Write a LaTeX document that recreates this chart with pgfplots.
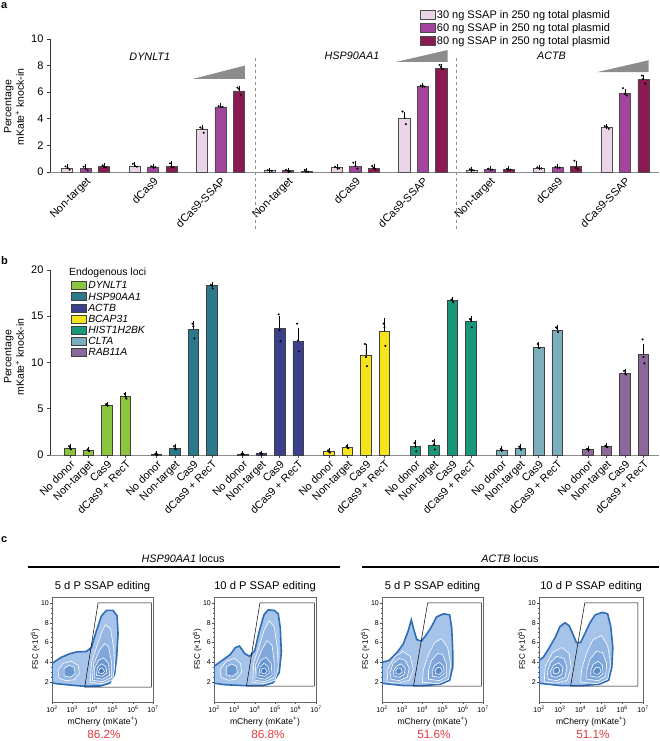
\documentclass[border=0pt]{standalone}
\usepackage{fontspec}
\setmainfont{Liberation Sans}
\usepackage{pgfplots}
\pgfplotsset{compat=1.18}
\newcommand{\fs}[1]{\fontsize{#1}{#1}\selectfont}
\definecolor{sA}{HTML}{EAD4E7}
\definecolor{sB}{HTML}{A3459F}
\definecolor{sC}{HTML}{8C1A52}
\definecolor{gDY}{HTML}{8BC540}
\definecolor{gHS}{HTML}{2B7A8B}
\definecolor{gAC}{HTML}{3A408B}
\definecolor{gBC}{HTML}{F5E41B}
\definecolor{gHI}{HTML}{18977B}
\definecolor{gCL}{HTML}{7BAFBD}
\definecolor{gRA}{HTML}{8C689B}
\definecolor{pctred}{HTML}{E23B3F}
\definecolor{fenv}{HTML}{A6C3E9}
\definecolor{fline}{HTML}{2F6DB8}
\definecolor{cA}{HTML}{94B6E3}
\definecolor{cB}{HTML}{80A7DB}
\definecolor{cC}{HTML}{6B98D3}
\definecolor{cD}{HTML}{5789CB}
\definecolor{cE}{HTML}{437AC3}
\pgfplotsset{
  barlegendA/.style={legend image code/.code={\draw[##1] (0pt,-4pt) rectangle (15pt,5pt);}},
  barlegendB/.style={legend image code/.code={\draw[##1] (0pt,-3.5pt) rectangle (15pt,4.5pt);}},
  errst/.style={error bars/.cd, y dir=plus, y explicit, error bar style={black, line width=0.6pt}, error mark options={black, line width=0.6pt, mark size=2.6pt}},
  dots/.style={only marks, mark=*, mark size=0.8pt, black, forget plot},
  env/.style={fill=fenv, draw=fline, line width=1.6pt},
  ct/.style={draw=white, line width=0.6pt, fill=#1},
  gate/.style={black, line width=0.5pt},
  flow/.style={scale only axis, height=105pt, xmin=2, xmax=7, ymin=0, ymax=10.6,
    xtick={2,...,7},
    xticklabels={10\textsuperscript{2},10\textsuperscript{3},10\textsuperscript{4},10\textsuperscript{5},10\textsuperscript{6},10\textsuperscript{7}},
    minor xtick={2.301,2.477,2.602,2.699,2.778,2.845,2.903,2.954,3.301,3.477,3.602,3.699,3.778,3.845,3.903,3.954,4.301,4.477,4.602,4.699,4.778,4.845,4.903,4.954,5.301,5.477,5.602,5.699,5.778,5.845,5.903,5.954,6.301,6.477,6.602,6.699,6.778,6.845,6.903,6.954},
    ytick={2,4,6,8,10}, minor y tick num=3,
    tick align=outside, tick pos=left, major tick length=2pt, minor tick length=1pt,
    every tick/.style={black!70, line width=0.4pt},
    axis line style={black!60, line width=0.6pt},
    ticklabel style={font=\fs{7}, inner sep=1pt},
    xticklabel style={yshift=-1pt},
    /pgf/number format/assume math mode=true,
    xlabel={mCherry (mKate\textsuperscript{+})}, ylabel={FSC (×10\textsuperscript{5})},
    xlabel style={font=\fs{8.6}, yshift=0pt}, ylabel style={font=\fs{8}, yshift=-3pt},
    title style={font=\fs{11.2}, yshift=-4pt}}
}
\begin{document}
\begin{tikzpicture}[x=1pt,y=1pt]
\path[use as bounding box] (0,0) rectangle (659,741);
% panel letters
\node[font=\fs{11}\bfseries, anchor=north west, inner sep=0pt] at (1,739) {a};
\node[font=\fs{11}\bfseries, anchor=north west, inner sep=0pt] at (1,485) {b};
\node[font=\fs{11}\bfseries, anchor=north west, inner sep=0pt] at (1,205) {c};
% y labels
\node[rotate=90, font=\fs{10.5}, align=center] at (14,634) {Percentage\\[2pt] mKate\textsuperscript{+} knock-in};
\node[rotate=90, font=\fs{10.5}, align=center] at (14,384) {Percentage\\[2pt] mKate\textsuperscript{+} knock-in};

% ================= panel a =================
\begin{axis}[at={(50pt,569pt)}, anchor=south west, scale only axis, width=609pt, height=133pt,
  xmin=-0.53, xmax=8.505, ymin=0, ymax=10, clip=false,
  axis lines=left, axis line style={-, line width=0.7pt},
  y axis line style={black!80}, x axis line style={black!45},
  ytick={0,2,...,10}, tick align=outside, tick pos=left, major tick length=3pt,
  every tick/.style={black!80, line width=0.6pt},
  xtick={0,...,8}, major x tick style={draw=none},
  xticklabels={Non-target,dCas9,dCas9-SSAP,Non-target,dCas9,dCas9-SSAP,Non-target,dCas9,dCas9-SSAP},
  xticklabel style={rotate=45, anchor=north east, font=\fs{11}, inner sep=1pt},
  yticklabel style={font=\fs{11}},
  /pgf/number format/assume math mode=true,
  barlegendA,
  legend style={at={(0.602,1.24)}, anchor=north west, draw=none, fill=none, font=\fs{11}, row sep=0.5pt, nodes={inner sep=1.5pt}},
  legend cell align=left]
\addplot[ybar, bar shift=0pt, bar width=0.165, fill=sA, draw=black!70, line width=0.6pt, errst] coordinates {
 (-0.2745,0.30) +- (0,0.10) (0.7255,0.45) +- (0,0.10) (1.7255,3.20) +- (0,0.15)
 (2.7255,0.10) +- (0,0.03) (3.7255,0.32) +- (0,0.05) (4.7255,4.05) +- (0,0.25)
 (5.7255,0.15) +- (0,0.05) (6.7255,0.30) +- (0,0.05) (7.7255,3.35) +- (0,0.08)};
\addlegendentry{30 ng SSAP in 250 ng total plasmid}
\addplot[ybar, bar shift=0pt, bar width=0.165, fill=sB, draw=black!70, line width=0.6pt, errst] coordinates {
 (0,0.25) +- (0,0.12) (1,0.38) +- (0,0.05) (2,4.90) +- (0,0.07)
 (3,0.10) +- (0,0.04) (4,0.45) +- (0,0.20) (5,6.45) +- (0,0.06)
 (6,0.20) +- (0,0.05) (7,0.35) +- (0,0.05) (8,5.90) +- (0,0.15)};
\addlegendentry{60 ng SSAP in 250 ng total plasmid}
\addplot[ybar, bar shift=0pt, bar width=0.165, fill=sC, draw=black!70, line width=0.6pt, errst] coordinates {
 (0.2745,0.40) +- (0,0.07) (1.2745,0.45) +- (0,0.15) (2.2745,6.10) +- (0,0.20)
 (3.2745,0.05) +- (0,0.08) (4.2745,0.30) +- (0,0.10) (5.2745,7.80) +- (0,0.10)
 (6.2745,0.20) +- (0,0.05) (7.2745,0.40) +- (0,0.20) (8.2745,6.95) +- (0,0.15)};
\addlegendentry{80 ng SSAP in 250 ng total plasmid}
\addplot[dots] coordinates {
(-0.30,0.42)(-0.27,0.30)(-0.24,0.18)(0.70,0.62)(0.73,0.45)(0.76,0.40)
(1.70,3.35)(1.73,3.30)(1.75,2.95)(2.70,0.14)(2.73,0.10)(2.76,0.08)
(3.70,0.38)(3.73,0.32)(3.76,0.28)(4.70,4.55)(4.73,4.05)(4.75,3.60)
(5.70,0.20)(5.73,0.15)(5.76,0.12)(6.70,0.35)(6.73,0.30)(6.76,0.27)
(7.70,3.45)(7.73,3.40)(7.76,3.25)};
\addplot[dots] coordinates {
(-0.03,0.40)(0.00,0.25)(0.03,0.12)(0.97,0.42)(1.00,0.38)(1.03,0.36)
(1.97,4.95)(2.00,4.93)(2.03,4.88)(2.97,0.15)(3.00,0.10)(3.03,0.06)
(3.97,0.70)(4.00,0.45)(4.03,0.25)(4.97,6.48)(5.00,6.48)(5.03,6.42)
(5.97,0.25)(6.00,0.20)(6.03,0.18)(6.97,0.38)(7.00,0.36)(7.03,0.33)
(7.97,6.30)(8.00,5.85)(8.03,5.75)};
\addplot[dots] coordinates {
(0.25,0.50)(0.27,0.40)(0.30,0.35)(1.25,0.65)(1.27,0.40)(1.30,0.35)
(2.25,6.35)(2.27,6.25)(2.30,5.80)(3.25,0.15)(3.27,0.05)(3.30,0.02)
(4.25,0.45)(4.27,0.30)(4.30,0.20)(5.25,8.05)(5.27,7.90)(5.30,7.75)
(6.25,0.22)(6.27,0.20)(6.30,0.18)(7.25,0.85)(7.27,0.30)(7.30,0.20)
(8.25,7.25)(8.27,7.00)(8.30,6.65)};
% wedges
\addplot[fill=black!45, draw=none, forget plot] coordinates {(1.59,7.0) (2.36,7.0) (2.36,8.0)} --cycle;
\addplot[fill=black!45, draw=none, forget plot] coordinates {(4.60,8.27) (5.37,8.27) (5.37,9.17)} --cycle;
\addplot[fill=black!45, draw=none, forget plot] coordinates {(7.58,7.50) (8.35,7.50) (8.35,8.40)} --cycle;
% separators
\addplot[black!45, dashed, line width=0.6pt, forget plot] coordinates {(2.52,8.6) (2.52,-4.4)};
\addplot[black!45, dashed, line width=0.6pt, forget plot] coordinates {(5.50,8.6) (5.50,-4.4)};
\node[font=\fs{10.8}\itshape] at (axis cs:0.95,8.65) {DYNLT1};
\node[font=\fs{10.8}\itshape] at (axis cs:3.95,8.75) {HSP90AA1};
\node[font=\fs{10.8}\itshape] at (axis cs:6.91,8.75) {ACTB};
\end{axis}

% ================= panel b =================
\node[font=\fs{10.4}, anchor=west, inner sep=0pt] at (69,468) {Endogenous loci};
\begin{axis}[at={(50pt,286pt)}, anchor=south west, scale only axis, width=609pt, height=185pt,
  xmin=-1.08, xmax=31.84, ymin=0, ymax=20, clip=false,
  axis lines=left, axis line style={-, line width=0.7pt},
  y axis line style={black!80}, x axis line style={black!45},
  ytick={0,5,...,20}, tick align=outside, tick pos=left, major tick length=3pt,
  every tick/.style={black!70, line width=0.5pt},
  xtick={0,1,2,3,4.667,5.667,6.667,7.667,9.333,10.333,11.333,12.333,14,15,16,17,18.667,19.667,20.667,21.667,23.333,24.333,25.333,26.333,28,29,30,31},
  xticklabels={No donor,Non-target,Cas9,dCas9 + RecT,No donor,Non-target,Cas9,dCas9 + RecT,No donor,Non-target,Cas9,dCas9 + RecT,No donor,Non-target,Cas9,dCas9 + RecT,No donor,Non-target,Cas9,dCas9 + RecT,No donor,Non-target,Cas9,dCas9 + RecT,No donor,Non-target,Cas9,dCas9 + RecT},
  xticklabel style={rotate=45, anchor=north east, font=\fs{10.8}, inner sep=1pt},
  yticklabel style={font=\fs{11}},
  /pgf/number format/assume math mode=true,
  barlegendB,
  legend style={at={(0.03,0.955)}, anchor=north west, draw=none, fill=none, font=\fs{10.4}\itshape, row sep=0pt, nodes={inner sep=1.2pt}},
  legend cell align=left]
\addplot[ybar, bar shift=0pt, bar width=0.57, fill=gDY, draw=black!75, line width=0.6pt, errst] coordinates {
 (0,0.75) +- (0,0.15) (1,0.50) +- (0,0.08) (2,5.40) +- (0,0.10) (3,6.30) +- (0,0.25)};
\addlegendentry{DYNLT1}
\addplot[ybar, bar shift=0pt, bar width=0.57, fill=gHS, draw=black!75, line width=0.6pt, errst] coordinates {
 (4.667,0.10) +- (0,0.05) (5.667,0.75) +- (0,0.20) (6.667,13.60) +- (0,0.60) (7.667,18.30) +- (0,0.10)};
\addlegendentry{HSP90AA1}
\addplot[ybar, bar shift=0pt, bar width=0.57, fill=gAC, draw=black!75, line width=0.6pt, errst] coordinates {
 (9.333,0.10) +- (0,0.03) (10.333,0.15) +- (0,0.05) (11.333,13.70) +- (0,1.00) (12.333,12.30) +- (0,1.20)};
\addlegendentry{ACTB}
\addplot[ybar, bar shift=0pt, bar width=0.57, fill=gBC, draw=black!75, line width=0.6pt, errst] coordinates {
 (14,0.35) +- (0,0.15) (15,0.85) +- (0,0.10) (16,10.80) +- (0,0.90) (17,13.40) +- (0,1.10)};
\addlegendentry{BCAP31}
\addplot[ybar, bar shift=0pt, bar width=0.57, fill=gHI, draw=black!75, line width=0.6pt, errst] coordinates {
 (18.667,0.90) +- (0,0.40) (19.667,1.10) +- (0,0.35) (20.667,16.70) +- (0,0.10) (21.667,14.40) +- (0,0.35)};
\addlegendentry{HIST1H2BK}
\addplot[ybar, bar shift=0pt, bar width=0.57, fill=gCL, draw=black!75, line width=0.6pt, errst] coordinates {
 (23.333,0.55) +- (0,0.10) (24.333,0.75) +- (0,0.15) (25.333,11.60) +- (0,0.30) (26.333,13.50) +- (0,0.25)};
\addlegendentry{CLTA}
\addplot[ybar, bar shift=0pt, bar width=0.57, fill=gRA, draw=black!75, line width=0.6pt, errst] coordinates {
 (28,0.60) +- (0,0.05) (29,0.90) +- (0,0.10) (30,8.80) +- (0,0.25) (31,10.90) +- (0,0.80)};
\addlegendentry{RAB11A}
\addplot[dots] coordinates {
(-0.05,0.95)(0.0,0.75)(0.05,0.6)(0.95,0.6)(1.0,0.5)(1.05,0.45)(1.95,5.5)(2.0,5.4)(2.05,5.35)(2.95,6.6)(3.0,6.3)(3.05,6.1)
(4.62,0.15)(4.67,0.1)(4.72,0.05)(5.62,0.95)(5.67,0.7)(5.72,0.6)(6.62,14.2)(6.67,13.9)(6.72,12.6)(7.62,18.4)(7.67,18.3)(7.72,18.0)
(9.28,0.12)(9.33,0.1)(9.38,0.08)(10.28,0.2)(10.33,0.15)(10.38,0.12)(11.28,15.2)(11.33,13.5)(11.38,12.3)(12.28,14.2)(12.33,12.4)(12.38,11.2)
(13.95,0.5)(14,0.35)(14.05,0.25)(14.95,0.95)(15,0.85)(15.05,0.75)(15.95,12.0)(16,10.6)(16.05,9.6)(16.95,14.2)(17,13.8)(17.05,11.8)
(18.62,1.3)(18.67,0.9)(18.72,0.4)(19.62,1.5)(19.67,1.1)(19.72,0.6)(20.62,16.8)(20.67,16.7)(20.72,16.5)(21.62,14.7)(21.67,14.6)(21.72,13.8)
(23.28,0.65)(23.33,0.55)(23.38,0.5)(24.28,0.9)(24.33,0.75)(24.38,0.55)(25.28,12.0)(25.33,11.6)(25.38,11.55)(26.28,13.8)(26.33,13.7)(26.38,13.3)
(27.95,0.65)(28,0.6)(28.05,0.58)(28.95,1.0)(29,0.9)(29.05,0.85)(29.95,9.1)(30,8.8)(30.05,8.7)(30.95,12.5)(31,10.6)(31.05,9.9)};
\end{axis}

% ================= panel c =================
\node[font=\fs{10.8}] at (183,182) {\textit{HSP90AA1} locus};
\draw[line width=1.1pt] (28,174) -- (340,174);
\node[font=\fs{10.8}] at (510,182) {\textit{ACTB} locus};
\draw[line width=1.1pt] (362,174) -- (659,174);

% plot 1
\begin{axis}[flow, at={(52pt,39pt)}, anchor=south west, width=101pt, title={5 d P SSAP editing}]
\addplot[env] coordinates {(2.0,1.95)(2.2,1.85)(2.7,1.75)(3.5,1.6)(4.4,1.62)(4.85,1.9)(5.1,2.8)(5.2,4.5)(5.27,6.9)(5.22,8.7)(5.02,9.25)(4.7,9.25)(4.45,8.7)(4.2,7.2)(3.95,5.5)(3.7,5.1)(3.2,5.05)(2.85,4.85)(2.45,4.5)(2.0,3.9)} --cycle;
\addplot[ct=cA] coordinates {(2.35,2.4)(2.7,2.15)(3.1,2.25)(3.35,2.9)(3.3,3.7)(2.95,4.1)(2.55,3.9)(2.3,3.2)} --cycle;
\addplot[ct=cC] coordinates {(2.6,2.65)(2.9,2.5)(3.15,2.85)(3.1,3.5)(2.85,3.7)(2.6,3.4)} --cycle;
\addplot[ct=cA] coordinates {(3.9,2.0)(4.5,1.85)(5.0,2.2)(5.1,3.5)(5.05,5.5)(4.9,7.4)(4.65,7.8)(4.45,7.0)(4.2,5.5)(3.95,4.0)} --cycle;
\addplot[ct=cB] coordinates {(4.0,2.2)(4.5,2.05)(4.95,2.5)(4.95,4.0)(4.8,5.6)(4.6,5.9)(4.35,5.2)(4.05,3.8)} --cycle;
\addplot[ct=cC] coordinates {(4.1,2.45)(4.5,2.3)(4.85,2.7)(4.8,3.9)(4.55,4.45)(4.3,4.2)(4.1,3.4)} --cycle;
\addplot[ct=cD] coordinates {(4.2,2.7)(4.5,2.6)(4.72,2.95)(4.65,3.6)(4.45,3.85)(4.25,3.5)} --cycle;
\addplot[ct=cE] coordinates {(4.3,2.95)(4.5,2.85)(4.6,3.1)(4.5,3.45)(4.35,3.35)} --cycle;
\addplot[gate] coordinates {(3.62,1.5)(4.28,10)(6.92,10)(6.92,1.5)} --cycle;
\end{axis}
\node[font=\fs{11.8}, text=pctred] at (104,7) {86.2\%};

% plot 2
\begin{axis}[flow, at={(214pt,39pt)}, anchor=south west, width=102pt, title={10 d P SSAP editing}]
\addplot[env] coordinates {(2.0,1.9)(2.5,1.75)(3.5,1.65)(4.4,1.65)(4.9,1.95)(5.2,3.0)(5.3,5.0)(5.25,7.5)(5.15,8.9)(4.95,9.25)(4.65,9.3)(4.45,8.8)(4.2,7.0)(4.0,5.2)(3.75,4.6)(3.5,4.9)(3.25,5.65)(3.05,5.5)(2.8,4.8)(2.4,4.2)(2.0,3.6)} --cycle;
\addplot[ct=cA] coordinates {(2.35,2.5)(2.7,2.2)(3.1,2.3)(3.35,3.0)(3.3,3.9)(3.0,4.4)(2.6,4.1)(2.3,3.3)} --cycle;
\addplot[ct=cC] coordinates {(2.6,2.75)(2.9,2.6)(3.15,2.95)(3.1,3.6)(2.85,3.85)(2.6,3.5)} --cycle;
\addplot[ct=cA] coordinates {(3.9,2.0)(4.5,1.85)(5.0,2.2)(5.15,3.5)(5.1,5.5)(4.95,7.6)(4.7,8.2)(4.45,7.2)(4.2,5.5)(3.95,4.0)} --cycle;
\addplot[ct=cB] coordinates {(4.0,2.2)(4.5,2.05)(4.95,2.5)(4.95,4.0)(4.85,5.7)(4.6,6.2)(4.35,5.3)(4.05,3.8)} --cycle;
\addplot[ct=cC] coordinates {(4.1,2.45)(4.5,2.3)(4.85,2.7)(4.8,3.9)(4.55,4.5)(4.3,4.25)(4.1,3.4)} --cycle;
\addplot[ct=cD] coordinates {(4.2,2.7)(4.5,2.6)(4.72,2.95)(4.65,3.6)(4.45,3.9)(4.25,3.5)} --cycle;
\addplot[ct=cE] coordinates {(4.3,2.95)(4.5,2.85)(4.6,3.1)(4.5,3.45)(4.35,3.35)} --cycle;
\addplot[gate] coordinates {(3.59,1.6)(4.25,10)(6.92,10)(6.92,1.6)} --cycle;
\end{axis}
\node[font=\fs{11.8}, text=pctred] at (268,7) {86.8\%};

% plot 3
\begin{axis}[flow, at={(382pt,39pt)}, anchor=south west, width=101pt, title={5 d P SSAP editing}]
\addplot[env] coordinates {(2.0,1.9)(2.4,1.8)(3.1,1.65)(4.05,1.65)(4.9,1.8)(5.35,2.2)(5.5,3.5)(5.5,5.2)(5.45,7.5)(5.35,8.8)(5.05,8.9)(4.7,8.6)(4.45,7.6)(4.2,6.8)(3.95,6.15)(3.72,6.3)(3.55,7.5)(3.45,8.3)(3.3,7.2)(3.05,5.85)(2.75,5.0)(2.35,4.2)(2.0,4.0)} --cycle;
\addplot[ct=cA] coordinates {(2.25,2.0)(2.8,1.9)(3.35,2.2)(3.55,3.3)(3.4,4.6)(3.05,5.1)(2.65,4.6)(2.3,3.4)} --cycle;
\addplot[ct=cB] coordinates {(2.45,2.3)(2.85,2.15)(3.25,2.5)(3.35,3.4)(3.15,4.2)(2.85,4.4)(2.55,3.9)(2.4,3.0)} --cycle;
\addplot[ct=cC] coordinates {(2.6,2.6)(2.85,2.5)(3.1,2.8)(3.15,3.4)(2.95,3.85)(2.7,3.6)(2.55,3.1)} --cycle;
\addplot[ct=cD] coordinates {(2.7,2.85)(2.85,2.8)(3.0,3.0)(2.95,3.4)(2.8,3.45)(2.68,3.2)} --cycle;
\addplot[ct=cA] coordinates {(4.0,2.0)(4.8,1.85)(5.3,2.3)(5.4,3.8)(5.25,5.5)(4.95,6.4)(4.6,6.0)(4.3,4.8)(4.05,3.3)} --cycle;
\addplot[ct=cB] coordinates {(4.3,2.3)(4.85,2.15)(5.2,2.6)(5.2,3.8)(5.0,4.8)(4.75,4.9)(4.45,4.2)(4.3,3.2)} --cycle;
\addplot[ct=cC] coordinates {(4.5,2.6)(4.85,2.5)(5.08,2.85)(5.05,3.6)(4.85,4.0)(4.6,3.7)(4.48,3.1)} --cycle;
\addplot[ct=cD] coordinates {(4.65,2.85)(4.85,2.8)(4.98,3.05)(4.92,3.45)(4.75,3.5)(4.63,3.2)} --cycle;
\addplot[gate] coordinates {(3.56,1.6)(4.26,10)(6.92,10)(6.92,1.6)} --cycle;
\end{axis}
\node[font=\fs{11.8}, text=pctred] at (434,7) {51.6\%};

% plot 4
\begin{axis}[flow, at={(539pt,39pt)}, anchor=south west, width=104pt, title={10 d P SSAP editing}]
\addplot[env] coordinates {(2.0,1.9)(2.4,1.8)(3.1,1.65)(4.05,1.65)(4.9,1.8)(5.35,2.2)(5.5,3.5)(5.55,5.5)(5.45,7.6)(5.3,8.9)(5.05,9.05)(4.7,8.8)(4.45,8.0)(4.25,7.1)(4.0,6.0)(3.8,6.0)(3.6,7.0)(3.45,7.7)(3.25,8.0)(3.0,7.6)(2.8,6.6)(2.5,5.5)(2.2,4.5)(2.0,4.2)} --cycle;
\addplot[ct=cA] coordinates {(2.25,2.0)(2.8,1.9)(3.35,2.2)(3.55,3.4)(3.45,4.9)(3.1,5.5)(2.65,5.0)(2.3,3.6)} --cycle;
\addplot[ct=cB] coordinates {(2.45,2.3)(2.85,2.15)(3.25,2.5)(3.35,3.5)(3.2,4.4)(2.85,4.6)(2.55,4.0)(2.4,3.0)} --cycle;
\addplot[ct=cC] coordinates {(2.6,2.6)(2.85,2.5)(3.1,2.8)(3.15,3.5)(2.95,3.95)(2.7,3.7)(2.55,3.1)} --cycle;
\addplot[ct=cD] coordinates {(2.7,2.9)(2.85,2.85)(3.0,3.05)(2.95,3.45)(2.8,3.5)(2.68,3.25)} --cycle;
\addplot[ct=cA] coordinates {(4.0,2.0)(4.8,1.85)(5.3,2.3)(5.45,3.8)(5.3,5.7)(5.0,6.7)(4.6,6.3)(4.3,5.0)(4.05,3.3)} --cycle;
\addplot[ct=cB] coordinates {(4.3,2.3)(4.85,2.15)(5.2,2.6)(5.25,3.9)(5.05,5.0)(4.75,5.1)(4.45,4.3)(4.3,3.2)} --cycle;
\addplot[ct=cC] coordinates {(4.5,2.6)(4.85,2.5)(5.08,2.85)(5.05,3.7)(4.85,4.1)(4.6,3.8)(4.48,3.1)} --cycle;
\addplot[ct=cD] coordinates {(4.65,2.85)(4.85,2.8)(4.98,3.05)(4.92,3.45)(4.75,3.5)(4.63,3.2)} --cycle;
\addplot[gate] coordinates {(3.52,1.6)(4.2,10)(6.75,10)(6.75,1.6)} --cycle;
\end{axis}
\node[font=\fs{11.8}, text=pctred] at (593,7) {51.1\%};
\end{tikzpicture}
\end{document}
